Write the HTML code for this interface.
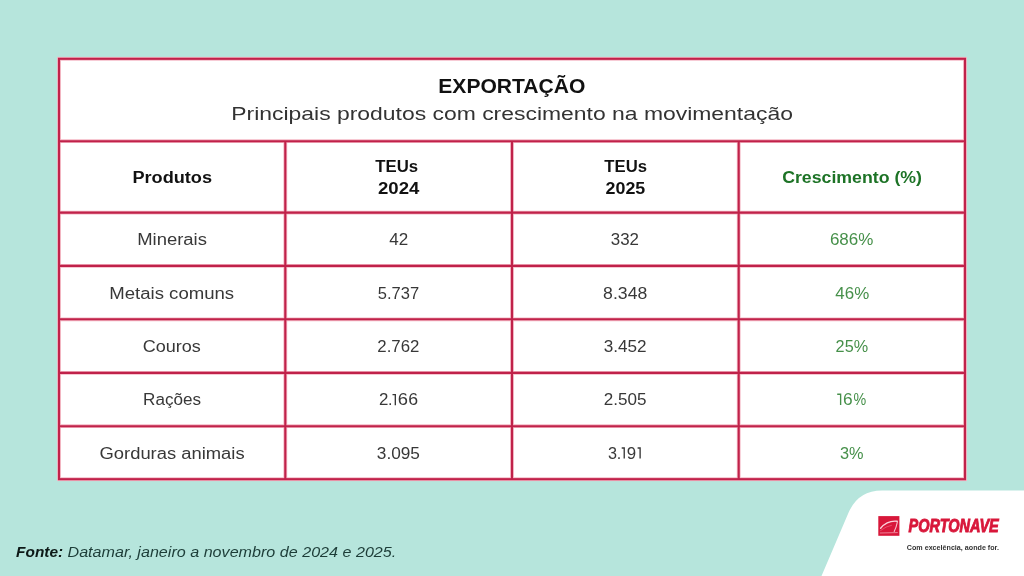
<!DOCTYPE html>
<html>
<head>
<meta charset="utf-8">
<style>
html,body{margin:0;padding:0;width:1024px;height:576px;overflow:hidden;background:#b6e5dc;}
svg{display:block;will-change:transform;}
text{font-family:"Liberation Sans",sans-serif;}
</style>
</head>
<body>
<svg width="1024" height="576" viewBox="0 0 1024 576">
  <path d="M1024 490.5 L882 490.5 Q858 490.5 848.6 512.6 L821.5 576 L1024 576 Z" fill="#ffffff"/>
  <rect x="59" y="59" width="906" height="420" fill="#ffffff"/>
  <g stroke="#f4b6c3" stroke-width="3.8" fill="none">
    <rect x="59" y="58.8" width="906" height="420.4"/>
    <line x1="59" y1="141.2" x2="965" y2="141.2"/>
    <line x1="59" y1="212.6" x2="965" y2="212.6"/>
    <line x1="59" y1="265.9" x2="965" y2="265.9"/>
    <line x1="59" y1="319.3" x2="965" y2="319.3"/>
    <line x1="59" y1="372.9" x2="965" y2="372.9"/>
    <line x1="59" y1="426.2" x2="965" y2="426.2"/>
    <line x1="285.3" y1="141.2" x2="285.3" y2="479.2"/>
    <line x1="512" y1="141.2" x2="512" y2="479.2"/>
    <line x1="738.7" y1="141.2" x2="738.7" y2="479.2"/>
  </g>
  <g stroke="#c0224a" stroke-width="2.1" fill="none">
    <rect x="59" y="58.8" width="906" height="420.4"/>
    <line x1="59" y1="141.2" x2="965" y2="141.2"/>
    <line x1="59" y1="212.6" x2="965" y2="212.6"/>
    <line x1="59" y1="265.9" x2="965" y2="265.9"/>
    <line x1="59" y1="319.3" x2="965" y2="319.3"/>
    <line x1="59" y1="372.9" x2="965" y2="372.9"/>
    <line x1="59" y1="426.2" x2="965" y2="426.2"/>
    <line x1="285.3" y1="141.2" x2="285.3" y2="479.2"/>
    <line x1="512" y1="141.2" x2="512" y2="479.2"/>
    <line x1="738.7" y1="141.2" x2="738.7" y2="479.2"/>
  </g>
  <rect x="878.3" y="516.1" width="21.1" height="19.7" fill="#d8173a"/>
  <g stroke="#f7bfcb" fill="none" stroke-linecap="round">
    <path d="M880.6 528.2 Q887.5 520.2 897.2 521.3" stroke-width="1.4" stroke="#fbd3dc"/>
    <path d="M897.4 521.8 Q896.4 527 894.2 531.5" stroke-width="1.1"/>
    <path d="M880.3 533 L897.4 532.6" stroke-width="0.9" stroke="#ef8da0"/>
    <path d="M880.6 530.5 Q886 526.2 891.5 525.3" stroke-width="0.7" stroke="#e9677f"/>
  </g>
  <text transform="translate(383.75,405.3) scale(1.055,1)" x="-4.45" y="0" style="font-size:16px;fill:#383838">2</text>
  <text transform="translate(390.25,405.3) scale(1.000,1)" x="-2.25" y="0" style="font-size:16px;fill:#383838">.</text>
  <path d="M392.50 394.68 H395.32 V405.30" stroke="#383838" stroke-width="1.35" fill="none"/>
  <text transform="translate(402.95,405.3) scale(1.149,1)" x="-4.50" y="0" style="font-size:16px;fill:#383838">6</text>
  <text transform="translate(413.10,405.3) scale(1.108,1)" x="-4.50" y="0" style="font-size:16px;fill:#383838">6</text>
  <text transform="translate(612.45,458.6) scale(1.013,1)" x="-4.40" y="0" style="font-size:16px;fill:#383838">3</text>
  <text transform="translate(619.05,458.6) scale(1.000,1)" x="-2.25" y="0" style="font-size:16px;fill:#383838">.</text>
  <path d="M621.70 447.98 H624.23 V458.60" stroke="#383838" stroke-width="1.35" fill="none"/>
  <text transform="translate(631.45,458.6) scale(1.055,1)" x="-4.45" y="0" style="font-size:16px;fill:#383838">9</text>
  <path d="M637.60 447.98 H640.12 V458.60" stroke="#383838" stroke-width="1.35" fill="none"/>
  <path d="M837.20 394.27 H840.62 V404.90" stroke="#46904a" stroke-width="1.35" fill="none"/>
  <text transform="translate(847.80,404.9) scale(1.081,1)" x="-4.50" y="0" style="font-size:16px;fill:#46904a">6</text>
  <text transform="translate(859.95,404.9) scale(0.893,1)" x="-7.15" y="0" style="font-size:16px;fill:#46904a">%</text>
  <text x="438.27" y="92.80" style="font-size:19.6px;font-weight:bold;font-style:normal;fill:#111" textLength="147.15" lengthAdjust="spacingAndGlyphs">EXPORTAÇÃO</text>
  <text x="231.30" y="120.30" style="font-size:18.67px;font-weight:normal;font-style:normal;fill:#333" textLength="561.58" lengthAdjust="spacingAndGlyphs">Principais produtos com crescimento na movimentação</text>
  <text x="132.42" y="182.90" style="font-size:16px;font-weight:bold;font-style:normal;fill:#111" textLength="79.63" lengthAdjust="spacingAndGlyphs">Produtos</text>
  <text x="375.33" y="171.50" style="font-size:16px;font-weight:bold;font-style:normal;fill:#111" textLength="42.81" lengthAdjust="spacingAndGlyphs">TEUs</text>
  <text x="378.03" y="193.90" style="font-size:16px;font-weight:bold;font-style:normal;fill:#111" textLength="41.33" lengthAdjust="spacingAndGlyphs">2024</text>
  <text x="604.36" y="171.50" style="font-size:16px;font-weight:bold;font-style:normal;fill:#111" textLength="42.64" lengthAdjust="spacingAndGlyphs">TEUs</text>
  <text x="605.58" y="193.90" style="font-size:16px;font-weight:bold;font-style:normal;fill:#111" textLength="39.68" lengthAdjust="spacingAndGlyphs">2025</text>
  <text x="782.20" y="182.70" style="font-size:16px;font-weight:bold;font-style:normal;fill:#1d7326" textLength="139.74" lengthAdjust="spacingAndGlyphs">Crescimento (%)</text>
  <text x="137.21" y="245.00" style="font-size:16px;font-weight:normal;font-style:normal;fill:#383838" textLength="69.72" lengthAdjust="spacingAndGlyphs">Minerais</text>
  <text x="109.22" y="298.70" style="font-size:16px;font-weight:normal;font-style:normal;fill:#383838" textLength="124.93" lengthAdjust="spacingAndGlyphs">Metais comuns</text>
  <text x="142.71" y="351.80" style="font-size:16px;font-weight:normal;font-style:normal;fill:#383838" textLength="58.09" lengthAdjust="spacingAndGlyphs">Couros</text>
  <text x="143.10" y="405.20" style="font-size:16px;font-weight:normal;font-style:normal;fill:#383838" textLength="57.97" lengthAdjust="spacingAndGlyphs">Rações</text>
  <text x="99.52" y="458.50" style="font-size:16px;font-weight:normal;font-style:normal;fill:#383838" textLength="145.11" lengthAdjust="spacingAndGlyphs">Gorduras animais</text>
  <text x="389.28" y="245.30" style="font-size:16px;font-weight:normal;font-style:normal;fill:#383838" textLength="18.97" lengthAdjust="spacingAndGlyphs">42</text>
  <text x="377.77" y="298.60" style="font-size:16px;font-weight:normal;font-style:normal;fill:#383838" textLength="41.31" lengthAdjust="spacingAndGlyphs">5.737</text>
  <text x="377.35" y="351.90" style="font-size:16px;font-weight:normal;font-style:normal;fill:#383838" textLength="42.05" lengthAdjust="spacingAndGlyphs">2.762</text>
  <text x="376.82" y="458.60" style="font-size:16px;font-weight:normal;font-style:normal;fill:#383838" textLength="43.14" lengthAdjust="spacingAndGlyphs">3.095</text>
  <text x="610.83" y="245.30" style="font-size:16px;font-weight:normal;font-style:normal;fill:#383838" textLength="28.19" lengthAdjust="spacingAndGlyphs">332</text>
  <text x="603.13" y="298.60" style="font-size:16px;font-weight:normal;font-style:normal;fill:#383838" textLength="44.13" lengthAdjust="spacingAndGlyphs">8.348</text>
  <text x="603.77" y="351.90" style="font-size:16px;font-weight:normal;font-style:normal;fill:#383838" textLength="42.88" lengthAdjust="spacingAndGlyphs">3.452</text>
  <text x="603.88" y="405.30" style="font-size:16px;font-weight:normal;font-style:normal;fill:#383838" textLength="42.70" lengthAdjust="spacingAndGlyphs">2.505</text>
  <text x="829.90" y="245.20" style="font-size:16px;font-weight:normal;font-style:normal;fill:#46904a" textLength="43.44" lengthAdjust="spacingAndGlyphs">686%</text>
  <text x="835.37" y="298.60" style="font-size:16px;font-weight:normal;font-style:normal;fill:#46904a" textLength="33.85" lengthAdjust="spacingAndGlyphs">46%</text>
  <text x="835.62" y="351.60" style="font-size:16px;font-weight:normal;font-style:normal;fill:#46904a" textLength="32.47" lengthAdjust="spacingAndGlyphs">25%</text>
  <text x="840.01" y="458.60" style="font-size:16px;font-weight:normal;font-style:normal;fill:#46904a" textLength="23.57" lengthAdjust="spacingAndGlyphs">3%</text>
  <text x="16.09" y="556.60" style="font-size:14.67px;font-weight:bold;font-style:italic;fill:#0d1917" textLength="47.04" lengthAdjust="spacingAndGlyphs">Fonte:</text>
  <text x="67.53" y="556.60" style="font-size:14.67px;font-weight:normal;font-style:italic;fill:#1d3d38" textLength="328.75" lengthAdjust="spacingAndGlyphs">Datamar, janeiro a novembro de 2024 e 2025.</text>
  <text x="908.46" y="532.30" style="font-size:17.6px;font-weight:bold;font-style:italic;fill:#d8173a;stroke:#d8173a;stroke-width:0.9" textLength="90.29" lengthAdjust="spacingAndGlyphs">PORTONAVE</text>
  <text x="906.80" y="549.80" style="font-size:7.2px;font-weight:bold;font-style:normal;fill:#333" textLength="92.16" lengthAdjust="spacingAndGlyphs">Com excelência, aonde for.</text>
</svg>
</body>
</html>
